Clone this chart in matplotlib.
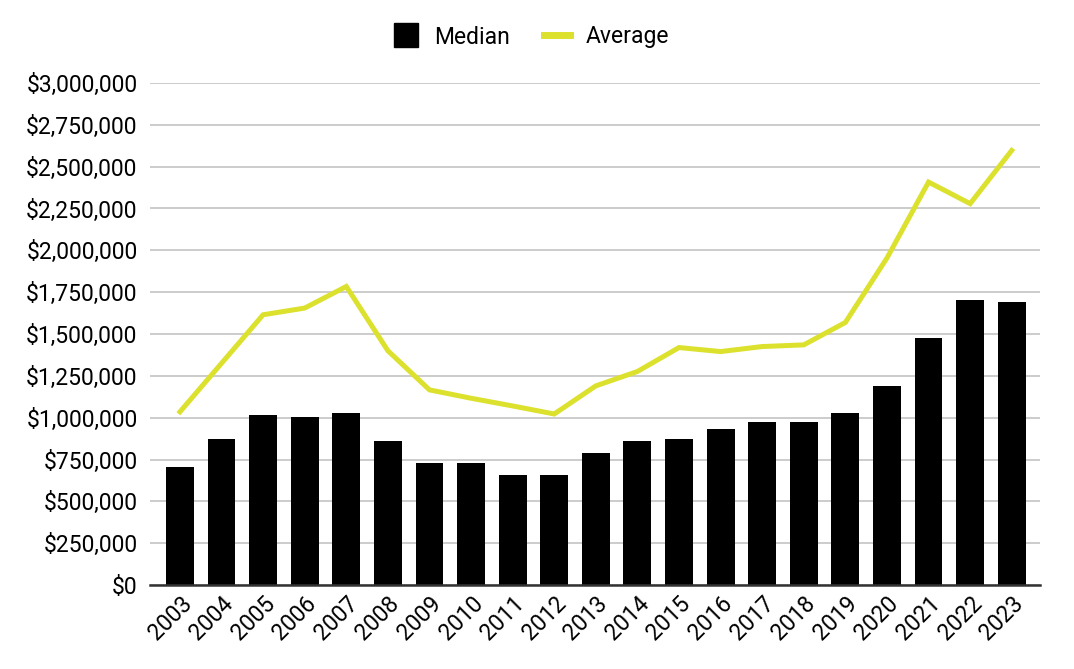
import matplotlib
matplotlib.use("Agg")
import matplotlib.pyplot as plt
from matplotlib.ticker import FuncFormatter, MultipleLocator
from matplotlib.lines import Line2D

years = [str(y) for y in range(2003, 2024)]
median = [704000, 871000, 1015000, 1003000, 1027000, 859000, 728000, 728000,
          656000, 656000, 788000, 859000, 871000, 931000, 977000, 977000,
          1027000, 1192000, 1479000, 1706000, 1694000]
average = [1035000, 1325000, 1615000, 1655000, 1784000, 1400000, 1166000, 1116000,
           1070000, 1022000, 1190000, 1276000, 1419000, 1395000, 1425000, 1435000,
           1569000, 1954000, 2408000, 2279000, 2597000]

plt.rcParams['font.family'] = ['Roboto', 'DejaVu Sans']

fig = plt.figure(figsize=(10.74, 6.69), dpi=100)
ax = fig.add_axes([150/1074, 1-585/669, (1040-150)/1074, (585-83)/669])

x = list(range(len(years)))
ax.bar(x, median, width=0.67, color='black', zorder=2)
ax.plot(x, average, color='#dce12d', lw=3.6, zorder=3, solid_joinstyle='miter')

ax.set_ylim(0, 3000000)
ax.set_xlim(-0.72, 20.68)
ax.yaxis.set_major_locator(MultipleLocator(250000))
ax.yaxis.set_major_formatter(FuncFormatter(lambda v, p: f"${v:,.0f}"))
ax.grid(axis='y', color='#c8c8c8', lw=1.3, zorder=0)
ax.set_axisbelow(True)
for s in ['top', 'right', 'left']:
    ax.spines[s].set_visible(False)
ax.spines['bottom'].set_color('#333333')
ax.spines['bottom'].set_linewidth(1.8)
ax.spines['bottom'].set_zorder(4)
ax.tick_params(axis='both', length=0, labelsize=16.5, colors='black')
ax.tick_params(axis='y', pad=9)
ax.set_xticks(x)
ax.set_xticklabels(years, rotation=45, ha='right', rotation_mode='anchor')
ax.tick_params(axis='x', pad=5)

handles = [Line2D([0], [0], marker='s', color='none', markerfacecolor='black',
                  markeredgecolor='black', markersize=17, label='Median'),
           Line2D([0], [0], color='#dce12d', lw=5, label='Average')]
fig.legend(handles=handles, loc='center', bbox_to_anchor=(531/1074, 1-37/669), ncol=2,
           frameon=False, fontsize=16.5, handlelength=1.1, columnspacing=1.5, handletextpad=0.7)

fig.savefig('out.png', dpi=100)
